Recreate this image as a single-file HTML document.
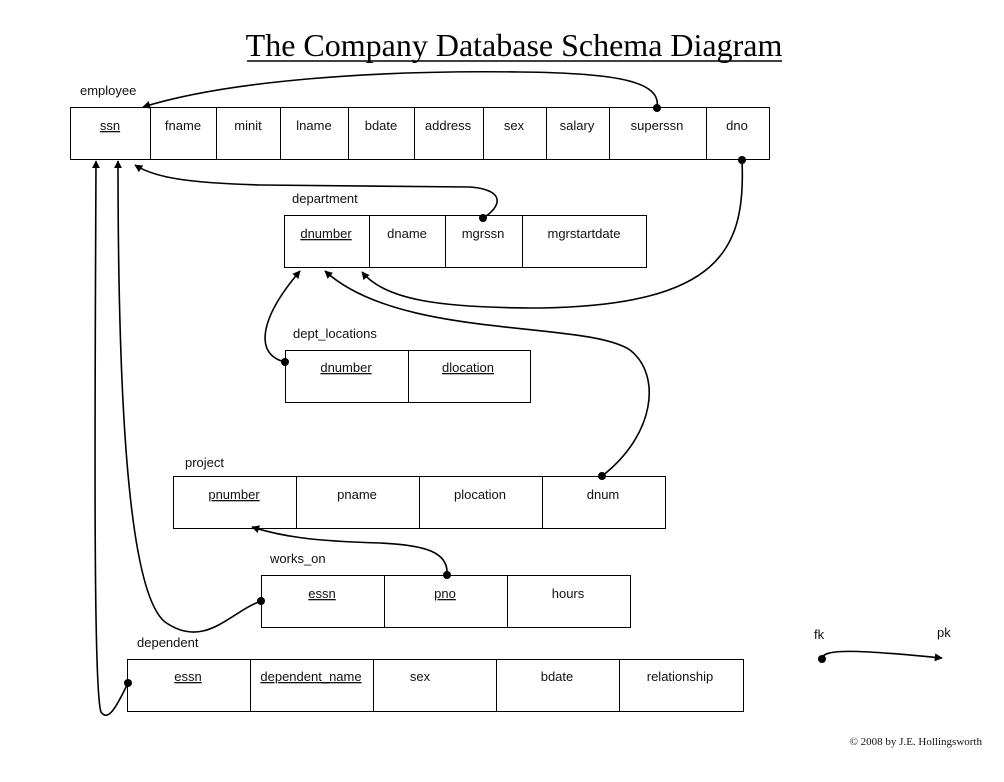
<!DOCTYPE html>
<html><head><meta charset="utf-8"><style>
html,body{margin:0;padding:0;background:#fff;}
svg{display:block;}
.t{font-family:"Liberation Sans",sans-serif;font-size:13px;fill:#111;}
.c{text-anchor:middle;}
rect,line.d{fill:none;stroke:#000;stroke-width:1;}
path.k{fill:none;stroke:#000;stroke-width:1.6;}
</style></head><body>
<svg width="1004" height="782" viewBox="0 0 1004 782" xmlns="http://www.w3.org/2000/svg">
<defs>
<marker id="a" viewBox="0 0 10 10" refX="9" refY="5" markerWidth="8" markerHeight="8" orient="auto-start-reverse" markerUnits="userSpaceOnUse"><path d="M0,0 L10,5 L0,10 z" fill="#000"/></marker>
</defs>
<text x="514" y="56" text-anchor="middle" font-family="Liberation Serif,serif" font-size="32" fill="#000">The Company Database Schema Diagram</text>
<line x1="247" y1="61" x2="782" y2="61" stroke="#000" stroke-width="1.5"/>

<text class="t" x="80" y="95">employee</text>
<rect x="70.5" y="107.5" width="699" height="52"/>
<g stroke="#000"><line x1="150.5" y1="107" x2="150.5" y2="159"/><line x1="216.5" y1="107" x2="216.5" y2="159"/><line x1="280.5" y1="107" x2="280.5" y2="159"/><line x1="348.5" y1="107" x2="348.5" y2="159"/><line x1="414.5" y1="107" x2="414.5" y2="159"/><line x1="483.5" y1="107" x2="483.5" y2="159"/><line x1="546.5" y1="107" x2="546.5" y2="159"/><line x1="609.5" y1="107" x2="609.5" y2="159"/><line x1="706.5" y1="107" x2="706.5" y2="159"/></g>
<g class="t c"><text x="110" y="130" text-decoration="underline">ssn</text><text x="183" y="130">fname</text><text x="248" y="130">minit</text><text x="314" y="130">lname</text><text x="381" y="130">bdate</text><text x="448" y="130">address</text><text x="514" y="130">sex</text><text x="577" y="130">salary</text><text x="657" y="130">superssn</text><text x="737" y="130">dno</text></g>

<text class="t" x="292" y="203">department</text>
<rect x="284.5" y="215.5" width="362" height="52"/>
<g stroke="#000"><line x1="369.5" y1="215" x2="369.5" y2="267"/><line x1="445.5" y1="215" x2="445.5" y2="267"/><line x1="522.5" y1="215" x2="522.5" y2="267"/></g>
<g class="t c"><text x="326" y="238" text-decoration="underline">dnumber</text><text x="407" y="238">dname</text><text x="483" y="238">mgrssn</text><text x="584" y="238">mgrstartdate</text></g>

<text class="t" x="293" y="338">dept_locations</text>
<rect x="285.5" y="350.5" width="245" height="52"/>
<line x1="408.5" y1="350" x2="408.5" y2="402" stroke="#000"/>
<g class="t c"><text x="346" y="372" text-decoration="underline">dnumber</text><text x="468" y="372" text-decoration="underline">dlocation</text></g>

<text class="t" x="185" y="467">project</text>
<rect x="173.5" y="476.5" width="492" height="52"/>
<g stroke="#000"><line x1="296.5" y1="476" x2="296.5" y2="528"/><line x1="419.5" y1="476" x2="419.5" y2="528"/><line x1="542.5" y1="476" x2="542.5" y2="528"/></g>
<g class="t c"><text x="234" y="499" text-decoration="underline">pnumber</text><text x="357" y="499">pname</text><text x="480" y="499">plocation</text><text x="603" y="499">dnum</text></g>

<text class="t" x="270" y="563">works_on</text>
<rect x="261.5" y="575.5" width="369" height="52"/>
<g stroke="#000"><line x1="384.5" y1="575" x2="384.5" y2="627"/><line x1="507.5" y1="575" x2="507.5" y2="627"/></g>
<g class="t c"><text x="322" y="598" text-decoration="underline">essn</text><text x="445" y="598" text-decoration="underline">pno</text><text x="568" y="598">hours</text></g>

<text class="t" x="137" y="647">dependent</text>
<rect x="127.5" y="659.5" width="616" height="52"/>
<g stroke="#000"><line x1="250.5" y1="659" x2="250.5" y2="711"/><line x1="373.5" y1="659" x2="373.5" y2="711"/><line x1="496.5" y1="659" x2="496.5" y2="711"/><line x1="619.5" y1="659" x2="619.5" y2="711"/></g>
<g class="t c"><text x="188" y="681" text-decoration="underline">essn</text><text x="311" y="681" text-decoration="underline">dependent_name</text><text x="420" y="681">sex</text><text x="557" y="681">bdate</text><text x="680" y="681">relationship</text></g>

<g>
<path class="k" d="M657,108 C662,82 620,73 520,72 C380,70 230,80 143,107" marker-end="url(#a)"/>
<path class="k" d="M483,218 C500,208 508,190 470,187 L260,185 C190,183 155,178 135,165" marker-end="url(#a)"/>
<path class="k" d="M742,160 C746,250 720,305 540,308 C440,308 385,300 362,272" marker-end="url(#a)"/>
<path class="k" d="M285,362 C255,355 258,320 300,271" marker-end="url(#a)"/>
<path class="k" d="M602,476 C655,435 662,375 630,350 C585,320 400,340 325,271" marker-end="url(#a)"/>
<path class="k" d="M447,575 C449,552 425,545 380,543 C310,541 280,536 252,527" marker-end="url(#a)"/>
<path class="k" d="M261,601 C230,612 205,650 165,622 C128,592 118,400 118,161" marker-end="url(#a)"/>
<path class="k" d="M128,683 C116,708 108,722 101,712 C93,690 95,400 96,161" marker-end="url(#a)"/>
</g>
<g fill="#000">
<circle cx="657" cy="108" r="4"/><circle cx="483" cy="218" r="4"/><circle cx="742" cy="160" r="4"/><circle cx="285" cy="362" r="4"/><circle cx="602" cy="476" r="4"/><circle cx="447" cy="575" r="4"/><circle cx="261" cy="601" r="4"/><circle cx="128" cy="683" r="4"/>
</g>

<text class="t" x="814" y="639">fk</text>
<text class="t" x="937" y="637">pk</text>
<path class="k" d="M822,659 C822,648 860,650 942,658" marker-end="url(#a)"/>
<circle cx="822" cy="659" r="4" fill="#000"/>

<text x="982" y="745" text-anchor="end" font-family="Liberation Serif,serif" font-size="11" fill="#111">© 2008 by J.E. Hollingsworth</text>
</svg>
</body></html>
